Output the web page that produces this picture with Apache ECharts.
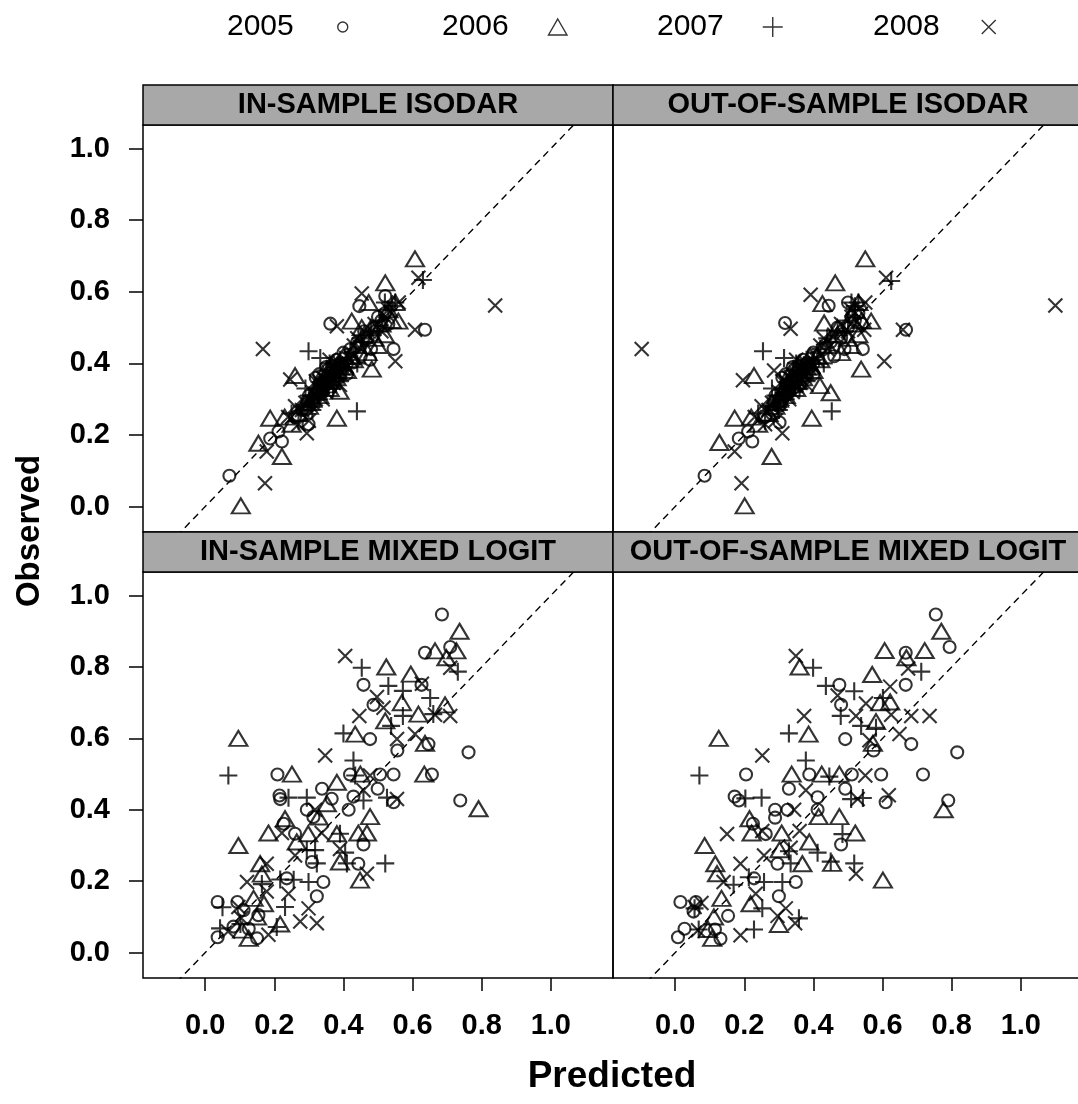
<!DOCTYPE html>
<html>
<head>
<meta charset="utf-8">
<script src="https://cdn.jsdelivr.net/npm/echarts@6/dist/echarts.min.js"></script>
<style>
html, body { margin: 0; padding: 0; background: #fff; }
#chart { width: 1078px; height: 1104px; }
</style>
</head>
<body>
<div id="chart"></div>
<script>
const years = ['2005', '2006', '2007', '2008'];
const panelTitles = ['IN-SAMPLE ISODAR', 'OUT-OF-SAMPLE ISODAR', 'IN-SAMPLE MIXED LOGIT', 'OUT-OF-SAMPLE MIXED LOGIT'];
const tickValues = [0, 0.2, 0.4, 0.6, 0.8, 1.0];
const xRange = [-0.18, 1.18];
const yRange = [-0.071, 1.066];
const refLine = [[-0.3, -0.3], [1.3, 1.3]];

// in-sample isodar
const isoIn2005 = [[0.521,0.588],[0.446,0.56],[0.362,0.511],[0.636,0.494],[0.545,0.44],[0.299,0.23],[0.222,0.182],[0.188,0.19],[0.212,0.21],[0.07,0.086],
  [0.28,0.27],[0.31,0.29],[0.33,0.34],[0.35,0.36],[0.37,0.38],[0.39,0.40],[0.40,0.43],[0.42,0.44],[0.44,0.46],[0.47,0.47],[0.49,0.50],[0.50,0.53],[0.52,0.54],
  [0.34,0.32],[0.36,0.35],[0.38,0.41],[0.45,0.42],[0.48,0.44],[0.26,0.25],[0.32,0.36],[0.41,0.37],[0.53,0.51],[0.35,0.39],[0.33,0.37],[0.30,0.31],[0.429,0.403],[0.477,0.41],
  [0.31,0.30],[0.32,0.31],[0.34,0.33],[0.35,0.34],[0.37,0.35],[0.38,0.38],[0.39,0.37],[0.40,0.39],[0.30,0.28],[0.34,0.35],[0.37,0.39],[0.41,0.40],[0.29,0.27],[0.46,0.49],[0.51,0.52]];
const isoIn2006 = [[0.607,0.692],[0.521,0.625],[0.473,0.57],[0.559,0.518],[0.424,0.518],[0.453,0.50],[0.482,0.384],[0.26,0.366],[0.389,0.322],[0.381,0.247],[0.188,0.247],[0.154,0.177],[0.222,0.14],[0.103,0.002],
  [0.27,0.26],[0.30,0.28],[0.33,0.31],[0.35,0.34],[0.37,0.37],[0.40,0.39],[0.42,0.42],[0.44,0.45],[0.46,0.48],[0.49,0.47],[0.51,0.51],[0.53,0.55],[0.55,0.57],
  [0.36,0.33],[0.31,0.30],[0.23,0.25],[0.50,0.45],[0.47,0.43],[0.34,0.37],[0.52,0.48],[0.25,0.23],
  [0.32,0.32],[0.33,0.34],[0.35,0.36],[0.36,0.35],[0.38,0.36],[0.39,0.39],[0.41,0.38],[0.29,0.29],[0.37,0.40],[0.40,0.42],[0.43,0.41],[0.48,0.50],[0.54,0.52]];
const isoIn2007 = [[0.63,0.633],[0.299,0.434],[0.333,0.415],[0.439,0.266],[0.54,0.56],[0.55,0.57],
  [0.25,0.26],[0.28,0.28],[0.30,0.31],[0.32,0.33],[0.34,0.35],[0.36,0.36],[0.38,0.39],[0.35,0.38],[0.33,0.30],[0.41,0.41],[0.43,0.44],[0.46,0.46],[0.48,0.49],
  [0.51,0.52],[0.53,0.55],[0.29,0.33],[0.39,0.35],[0.52,0.57],[0.36,0.40],[0.31,0.27],[0.37,0.33],[0.27,0.24],[0.44,0.40],
  [0.31,0.31],[0.33,0.32],[0.34,0.34],[0.35,0.33],[0.36,0.38],[0.37,0.37],[0.38,0.36],[0.39,0.41],[0.40,0.38],[0.30,0.29],[0.42,0.43],[0.45,0.47],[0.50,0.49]];
const isoIn2008 = [[0.839,0.562],[0.617,0.639],[0.453,0.595],[0.381,0.504],[0.607,0.494],[0.55,0.406],[0.167,0.44],[0.246,0.355],[0.294,0.205],[0.178,0.154],[0.173,0.065],[0.53,0.55],
  [0.24,0.25],[0.27,0.23],[0.29,0.29],[0.31,0.32],[0.33,0.33],[0.35,0.35],[0.37,0.36],[0.38,0.37],[0.40,0.40],[0.42,0.41],[0.45,0.44],[0.47,0.48],[0.49,0.51],
  [0.51,0.49],[0.34,0.30],[0.32,0.35],[0.44,0.47],[0.56,0.57],[0.26,0.28],[0.36,0.41],[0.39,0.34],[0.30,0.24],
  [0.31,0.29],[0.32,0.30],[0.33,0.35],[0.34,0.36],[0.35,0.32],[0.36,0.34],[0.37,0.39],[0.38,0.40],[0.39,0.38],[0.41,0.39],[0.28,0.27],[0.43,0.45],[0.52,0.53]];

// out-of-sample isodar
const isoOut2005 = [[0.444,0.561],[0.318,0.513],[0.668,0.494],[0.543,0.44],[0.302,0.235],[0.223,0.182],[0.184,0.19],[0.211,0.21],[0.085,0.086],[0.50,0.57],
  [0.28,0.27],[0.30,0.29],[0.32,0.34],[0.34,0.36],[0.36,0.38],[0.38,0.40],[0.40,0.43],[0.43,0.44],[0.45,0.46],[0.48,0.47],[0.50,0.50],[0.51,0.53],[0.53,0.54],
  [0.33,0.32],[0.35,0.35],[0.37,0.41],[0.46,0.42],[0.49,0.44],[0.26,0.25],[0.31,0.36],[0.40,0.37],[0.54,0.51],[0.34,0.39],[0.32,0.37],[0.29,0.31],
  [0.31,0.30],[0.32,0.31],[0.33,0.33],[0.34,0.33],[0.36,0.34],[0.37,0.38],[0.38,0.37],[0.39,0.39],[0.30,0.28],[0.35,0.36],[0.36,0.39],[0.40,0.40],[0.28,0.26],[0.47,0.50],[0.52,0.52]];
const isoOut2006 = [[0.55,0.692],[0.463,0.625],[0.426,0.567],[0.567,0.518],[0.431,0.513],[0.538,0.384],[0.228,0.366],[0.419,0.338],[0.45,0.318],[0.395,0.247],[0.172,0.247],[0.128,0.179],[0.279,0.14],[0.201,0.002],
  [0.27,0.26],[0.29,0.28],[0.32,0.31],[0.34,0.34],[0.36,0.37],[0.39,0.39],[0.41,0.42],[0.44,0.45],[0.47,0.48],[0.50,0.47],[0.52,0.51],[0.52,0.55],[0.53,0.57],
  [0.35,0.33],[0.30,0.30],[0.22,0.25],[0.51,0.45],[0.48,0.43],[0.33,0.37],[0.53,0.48],[0.24,0.23],
  [0.31,0.32],[0.32,0.34],[0.34,0.36],[0.35,0.35],[0.37,0.36],[0.38,0.39],[0.40,0.38],[0.28,0.29],[0.36,0.40],[0.39,0.42],[0.42,0.41],[0.47,0.50],[0.54,0.52]];
const isoOut2007 = [[0.625,0.63],[0.254,0.434],[0.315,0.415],[0.453,0.266],[0.52,0.56],[0.53,0.57],
  [0.24,0.26],[0.27,0.28],[0.29,0.31],[0.31,0.33],[0.33,0.35],[0.35,0.36],[0.37,0.39],[0.34,0.38],[0.32,0.30],[0.40,0.41],[0.42,0.44],[0.45,0.46],[0.47,0.49],
  [0.50,0.52],[0.52,0.55],[0.28,0.33],[0.38,0.35],[0.51,0.57],[0.35,0.40],[0.30,0.27],[0.36,0.33],[0.26,0.24],[0.43,0.40],
  [0.30,0.31],[0.32,0.32],[0.33,0.34],[0.34,0.33],[0.35,0.38],[0.36,0.37],[0.37,0.36],[0.38,0.41],[0.39,0.38],[0.29,0.29],[0.41,0.43],[0.44,0.47],[0.49,0.49]];
const isoOut2008 = [[1.1,0.562],[0.61,0.639],[0.392,0.592],[0.334,0.497],[0.547,0.494],[0.659,0.494],[0.605,0.406],[-0.097,0.44],[0.196,0.353],[0.286,0.38],[0.31,0.205],[0.172,0.154],[0.192,0.065],[0.51,0.55],
  [0.23,0.25],[0.26,0.23],[0.28,0.29],[0.30,0.32],[0.32,0.33],[0.34,0.35],[0.36,0.36],[0.37,0.37],[0.39,0.40],[0.41,0.41],[0.44,0.44],[0.46,0.48],[0.48,0.51],
  [0.50,0.49],[0.33,0.30],[0.31,0.35],[0.43,0.47],[0.55,0.57],[0.25,0.28],[0.35,0.41],[0.38,0.34],[0.29,0.24],
  [0.30,0.29],[0.31,0.30],[0.32,0.35],[0.33,0.36],[0.34,0.32],[0.35,0.34],[0.36,0.39],[0.37,0.40],[0.38,0.38],[0.40,0.39],[0.27,0.27],[0.42,0.45],[0.51,0.53]];

// in-sample mixed logit
const mixIn2005 = [[0.685,0.947],[0.709,0.856],[0.636,0.84],[0.458,0.75],[0.626,0.75],[0.487,0.694],[0.477,0.598],[0.646,0.584],[0.556,0.566],[0.762,0.561],
  [0.209,0.499],[0.656,0.499],[0.419,0.499],[0.506,0.499],[0.545,0.499],[0.338,0.459],[0.499,0.459],[0.215,0.44],[0.217,0.43],[0.366,0.431],[0.429,0.437],
  [0.545,0.421],[0.738,0.426],[0.294,0.40],[0.415,0.40],[0.313,0.38],[0.227,0.361],[0.26,0.333],[0.458,0.303],[0.309,0.254],[0.443,0.249],[0.342,0.198],
  [0.236,0.208],[0.323,0.158],[0.036,0.142],[0.093,0.142],[0.111,0.119],[0.154,0.105],[0.082,0.073],[0.036,0.043],[0.150,0.04],[0.126,0.067]];
const mixIn2006 = [[0.736,0.90],[0.665,0.845],[0.727,0.845],[0.698,0.826],[0.524,0.80],[0.595,0.78],[0.569,0.70],[0.617,0.668],[0.694,0.694],[0.521,0.649],
  [0.434,0.612],[0.636,0.586],[0.096,0.60],[0.251,0.50],[0.381,0.477],[0.449,0.50],[0.634,0.50],[0.352,0.417],[0.791,0.403],[0.477,0.381],[0.328,0.38],
  [0.231,0.375],[0.183,0.335],[0.298,0.333],[0.381,0.333],[0.443,0.335],[0.468,0.335],[0.265,0.31],[0.096,0.30],[0.39,0.254],[0.448,0.203],[0.159,0.249],
  [0.164,0.22],[0.14,0.152],[0.17,0.137],[0.217,0.08],[0.15,0.1],[0.107,0.063],[0.126,0.04]];
const mixIn2007 = [[0.453,0.798],[0.731,0.787],[0.53,0.747],[0.572,0.733],[0.651,0.713],[0.572,0.663],[0.538,0.635],[0.66,0.668],[0.40,0.614],[0.067,0.496],
  [0.429,0.538],[0.434,0.496],[0.241,0.434],[0.294,0.434],[0.458,0.426],[0.526,0.434],[0.39,0.333],[0.294,0.287],[0.318,0.287],[0.405,0.28],[0.41,0.25],
  [0.521,0.25],[0.323,0.25],[0.217,0.205],[0.256,0.204],[0.299,0.198],[0.231,0.128],[0.164,0.192],[0.05,0.127],[0.043,0.068],[0.102,0.08],[0.207,0.072]];
const mixIn2008 = [[0.405,0.831],[0.709,0.798],[0.627,0.753],[0.497,0.716],[0.516,0.686],[0.446,0.663],[0.665,0.666],[0.709,0.663],[0.555,0.598],[0.607,0.612],
  [0.347,0.552],[0.477,0.496],[0.458,0.455],[0.555,0.43],[0.318,0.40],[0.222,0.335],[0.337,0.335],[0.39,0.29],[0.26,0.272],[0.178,0.249],[0.468,0.221],
  [0.121,0.198],[0.241,0.165],[0.299,0.124],[0.275,0.087],[0.323,0.082],[0.183,0.05],[0.096,0.128],[0.178,0.171],[0.104,0.097],[0.066,0.059]];

// out-of-sample mixed logit
const mixOut2005 = [[0.754,0.947],[0.794,0.856],[0.667,0.84],[0.475,0.75],[0.667,0.75],[0.48,0.694],[0.492,0.598],[0.683,0.584],[0.574,0.566],[0.816,0.561],
  [0.205,0.499],[0.388,0.499],[0.511,0.499],[0.596,0.499],[0.717,0.499],[0.329,0.459],[0.492,0.459],[0.172,0.437],[0.184,0.426],[0.412,0.435],[0.609,0.421],
  [0.79,0.426],[0.289,0.40],[0.325,0.40],[0.412,0.40],[0.289,0.378],[0.225,0.361],[0.262,0.332],[0.48,0.303],[0.296,0.249],[0.349,0.198],[0.228,0.208],
  [0.3,0.158],[0.015,0.142],[0.06,0.142],[0.053,0.115],[0.153,0.103],[0.027,0.067],[0.008,0.043],[0.131,0.039],[0.115,0.065]];
const mixOut2006 = [[0.77,0.90],[0.606,0.846],[0.722,0.846],[0.669,0.826],[0.36,0.80],[0.57,0.779],[0.593,0.70],[0.622,0.702],[0.581,0.647],[0.386,0.612],
  [0.572,0.586],[0.126,0.60],[0.337,0.50],[0.424,0.50],[0.475,0.50],[0.415,0.381],[0.475,0.381],[0.777,0.40],[0.215,0.375],[0.221,0.335],[0.308,0.335],
  [0.521,0.335],[0.388,0.31],[0.085,0.30],[0.302,0.288],[0.368,0.249],[0.454,0.25],[0.116,0.249],[0.121,0.221],[0.601,0.203],[0.134,0.152],[0.218,0.137],
  [0.3,0.079],[0.112,0.1],[0.107,0.04],[0.095,0.065]];
const mixOut2007 = [[0.399,0.798],[0.712,0.787],[0.436,0.747],[0.518,0.732],[0.601,0.713],[0.479,0.663],[0.538,0.635],[0.581,0.63],[0.329,0.614],[0.07,0.496],
  [0.378,0.538],[0.446,0.493],[0.203,0.432],[0.25,0.434],[0.509,0.43],[0.543,0.433],[0.484,0.332],[0.329,0.284],[0.412,0.28],[0.45,0.255],[0.518,0.25],
  [0.334,0.25],[0.213,0.211],[0.257,0.198],[0.31,0.198],[0.169,0.19],[0.252,0.124],[0.358,0.096],[0.228,0.065],[0.068,0.065],[0.056,0.124]];
const mixOut2008 = [[0.349,0.831],[0.674,0.796],[0.622,0.745],[0.47,0.72],[0.552,0.698],[0.373,0.663],[0.523,0.663],[0.683,0.663],[0.736,0.663],[0.625,0.666],
  [0.649,0.612],[0.562,0.595],[0.252,0.552],[0.55,0.496],[0.378,0.455],[0.618,0.441],[0.528,0.43],[0.344,0.40],[0.15,0.332],[0.252,0.341],[0.36,0.341],
  [0.334,0.294],[0.257,0.272],[0.189,0.249],[0.523,0.221],[0.14,0.198],[0.233,0.165],[0.32,0.124],[0.296,0.103],[0.347,0.082],[0.189,0.049],[0.076,0.139],
  [0.056,0.128],[0.066,0.063]];

const panelData = [
  [isoIn2005, isoIn2006, isoIn2007, isoIn2008],
  [isoOut2005, isoOut2006, isoOut2007, isoOut2008],
  [mixIn2005, mixIn2006, mixIn2007, mixIn2008],
  [mixOut2005, mixOut2006, mixOut2007, mixOut2008]
];

const font = '"Liberation Sans", Arial, Helvetica, sans-serif';
const boxes = [
  { left: 143, top: 125, width: 470, height: 407 },
  { left: 613, top: 125, width: 470, height: 407 },
  { left: 143, top: 572, width: 470, height: 406 },
  { left: 613, top: 572, width: 470, height: 406 }
];
// symbol per year: circle, triangle, plus, cross
const marks = [
  { symbol: 'circle', size: 12, legendH: 10 },
  { symbol: 'path://M10,0L20,17.32L0,17.32Z', size: [18, 15], legendH: 16 },
  { symbol: 'path://M0,10L20,10M10,0L10,20', size: 18, legendH: 20 },
  { symbol: 'path://M0,0L20,20M20,0L0,20', size: 14, legendH: 14 }
];
const legendLefts = [227, 442, 657, 873];

let chart = echarts.init(document.getElementById('chart'));

let series = [];
panelData.forEach((sets, i) => {
  series.push({
    type: 'line',
    xAxisIndex: i,
    yAxisIndex: i,
    data: refLine,
    symbol: 'none',
    silent: true,
    clip: true,
    lineStyle: { color: '#000', width: 1.4, type: [7, 5] },
    z: 1
  });
  sets.forEach((pts, k) => {
    series.push({
      name: years[k],
      type: 'scatter',
      xAxisIndex: i,
      yAxisIndex: i,
      data: pts,
      symbol: marks[k].symbol,
      symbolSize: marks[k].size,
      clip: true,
      itemStyle: { color: 'rgba(0,0,0,0)', borderColor: '#000', borderWidth: 2.1 },
      emphasis: { disabled: true },
      z: 2
    });
  });
});

chart.setOption({
  animation: false,
  backgroundColor: '#fff',
  grid: boxes.map(b => ({
    left: b.left, top: b.top, width: b.width, height: b.height,
    show: true, borderColor: '#000', borderWidth: 1.5,
    outerBoundsMode: 'none'
  })),
  xAxis: boxes.map((b, i) => ({
    gridIndex: i,
    type: 'value',
    min: xRange[0],
    max: xRange[1],
    axisLine: { show: false, onZero: false },
    splitLine: { show: false },
    axisTick: { show: i >= 2, length: 13, customValues: tickValues, lineStyle: { color: '#000', width: 1.5 } },
    axisLabel: {
      show: i >= 2, customValues: tickValues, margin: 33,
      formatter: v => v.toFixed(1),
      color: '#000', fontSize: 29, fontWeight: 'bold', fontFamily: font
    }
  })),
  yAxis: boxes.map((b, i) => ({
    gridIndex: i,
    type: 'value',
    min: yRange[0],
    max: yRange[1],
    axisLine: { show: false, onZero: false },
    splitLine: { show: false },
    axisTick: { show: i % 2 === 0, length: 14, customValues: tickValues, lineStyle: { color: '#000', width: 1.5 } },
    axisLabel: {
      show: i % 2 === 0, customValues: tickValues, margin: 33,
      formatter: v => v.toFixed(1),
      color: '#000', fontSize: 29, fontWeight: 'bold', fontFamily: font
    }
  })),
  legend: years.map((y, k) => ({
    data: [y],
    left: legendLefts[k],
    top: 12,
    padding: 0,
    align: 'right',
    itemWidth: 88,
    itemHeight: marks[k].legendH,
    selectedMode: false,
    textStyle: { color: '#000', fontSize: 30, fontFamily: font },
    itemStyle: { color: 'rgba(0,0,0,0)', borderColor: '#000', borderWidth: 1.4 }
  })),
  graphic: [
    ...boxes.map(b => ({
      type: 'rect',
      shape: { x: b.left, y: b.top - 40, width: b.width, height: 40 },
      style: { fill: '#a8a8a8', stroke: '#000', lineWidth: 1.5 },
      z: 10
    })),
    ...boxes.map((b, i) => ({
      type: 'text',
      x: b.left + b.width / 2,
      y: b.top - 20,
      style: {
        text: panelTitles[i], fill: '#000',
        font: 'bold 29px ' + font,
        align: 'center', verticalAlign: 'middle',
        textAlign: 'center', textVerticalAlign: 'middle'
      },
      z: 11
    })),
    {
      type: 'text', x: 30, y: 531, rotation: Math.PI / 2,
      style: {
        text: 'Observed', fill: '#000', font: 'bold 33px ' + font,
        align: 'center', verticalAlign: 'middle', textAlign: 'center', textVerticalAlign: 'middle'
      }
    },
    {
      type: 'text', x: 612, y: 1077,
      style: {
        text: 'Predicted', fill: '#000', font: 'bold 37px ' + font,
        align: 'center', verticalAlign: 'middle', textAlign: 'center', textVerticalAlign: 'middle'
      }
    }
  ],
  series: series
});
</script>
</body>
</html>
